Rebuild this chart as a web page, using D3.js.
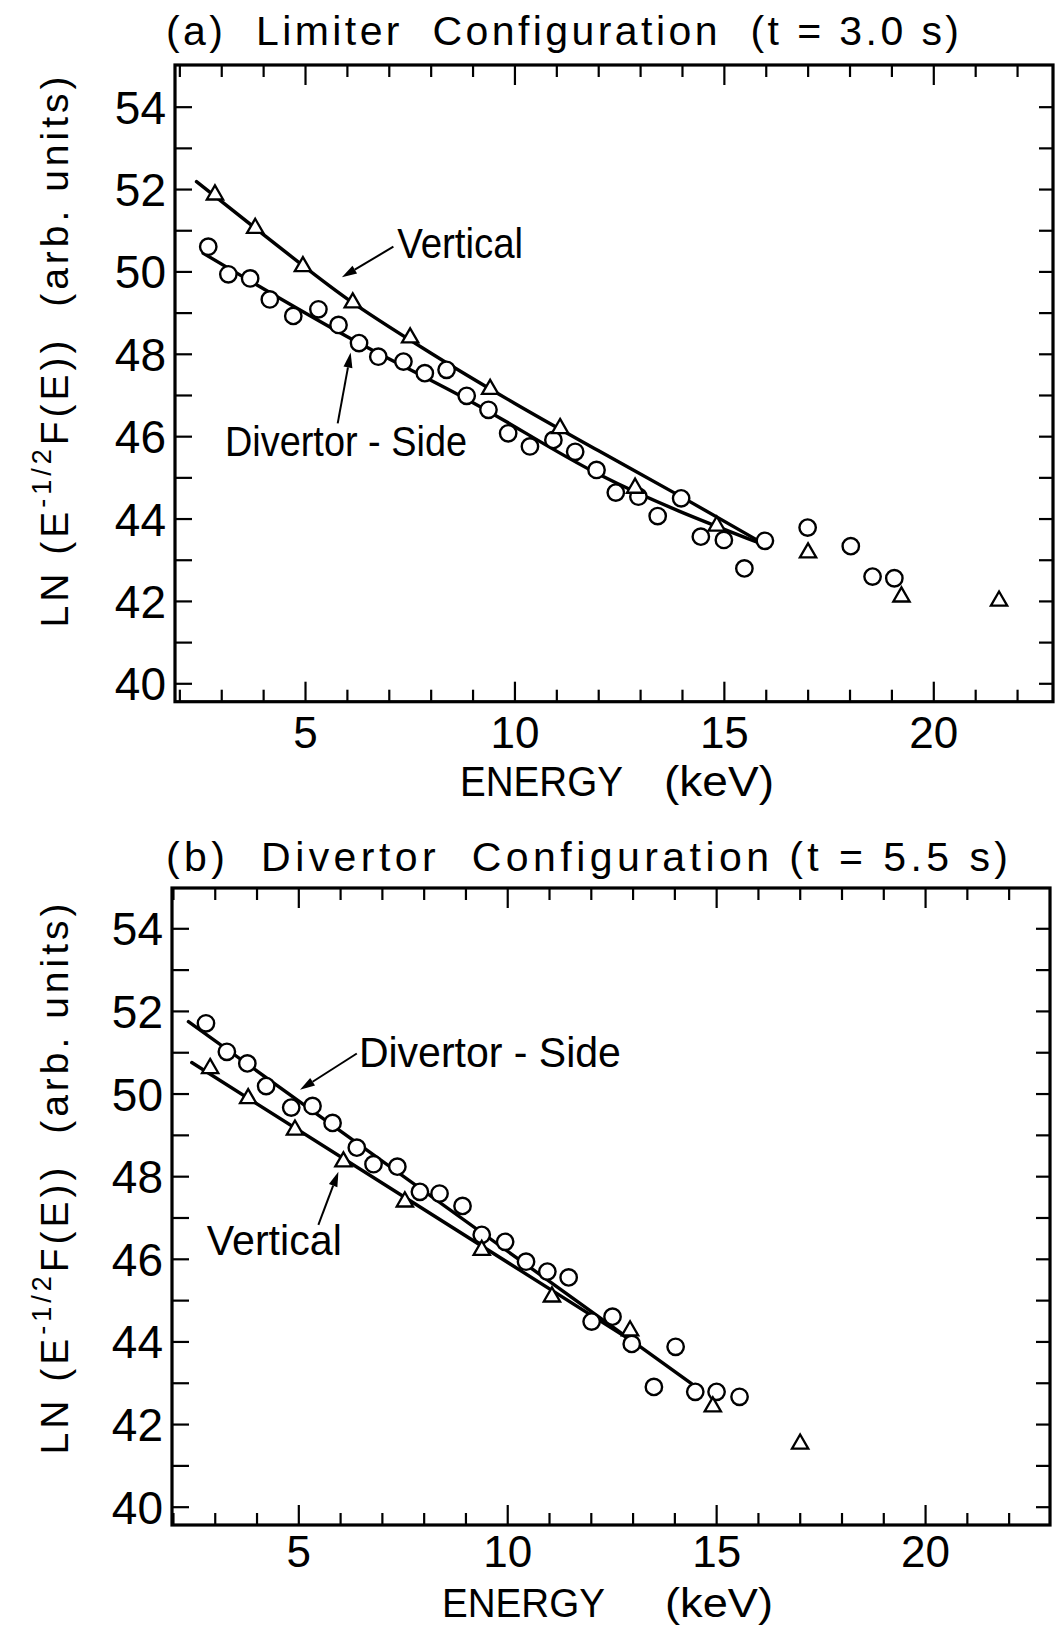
<!DOCTYPE html>
<html><head><meta charset="utf-8">
<script src="https://cdn.jsdelivr.net/npm/d3@7"></script>
<style>body{margin:0;background:#fff}svg{display:block}</style>
</head><body>
<script>
// ---------------- data ----------------
const xTickValues = d3.range(2, 23);          // 2 .. 22 keV
const xTickLabels = [5, 10, 15, 20];
const yTickValues = d3.range(40, 55);          // 40 .. 54
const yTickLabels = [40, 42, 44, 46, 48, 50, 52, 54];

const titleA = "(a)  Limiter  Configuration  (t = 3.0 s)";
const titleB = "(b)  Divertor  Configuration (t = 5.5 s)";
const xAxisWord = "ENERGY";
const xAxisUnit = "(keV)";

// Panel (a) Limiter configuration: Divertor-Side (circles)
const aDivE  = [2.69,3.17,3.69,4.16,4.72,5.32,5.80,6.29,6.75,7.35,7.86,8.38,8.86,9.38,9.85,10.37,10.93,11.45,11.96,12.42,12.96,13.42,13.98,14.45,15.00,15.49,15.98,17.00,18.03,18.55,19.07];
const aDivLn = [50.60,49.93,49.83,49.32,48.92,49.08,48.70,48.26,47.93,47.81,47.53,47.61,46.98,46.64,46.07,45.75,45.91,45.62,45.18,44.63,44.53,44.06,44.49,43.56,43.48,42.79,43.46,43.78,43.33,42.59,42.55];
// Panel (a): Vertical (triangles)
const aVertE  = [2.85,3.81,4.95,6.14,7.51,9.42,11.09,12.88,14.83,17.01,19.24,21.57];
const aVertLn = [51.86,51.05,50.12,49.24,48.39,47.14,46.19,44.74,43.82,43.17,42.10,42.00];
// Panel (a) fitted curves
const aFitVertE  = [2.41,4.0,6.0,8.0,10.0,12.0,14.0,15.86];
const aFitVertLn = [52.18,50.90,49.34,48.02,46.80,45.65,44.52,43.44];
const aFitDivE   = [2.57,6.0,9.0,12.0,15.86];
const aFitDivLn  = [50.44,48.42,46.82,45.08,43.40];

// Panel (b) Divertor configuration: Divertor-Side (circles)
const bDivE  = [2.79,3.29,3.78,4.23,4.83,5.34,5.82,6.40,6.80,7.37,7.91,8.38,8.93,9.39,9.95,10.45,10.96,11.47,12.02,12.52,12.98,13.51,14.03,14.50,15.01,15.56];
const bDivLn = [51.70,51.01,50.73,50.18,49.66,49.70,49.29,48.69,48.29,48.23,47.62,47.58,47.28,46.58,46.41,45.93,45.69,45.55,44.48,44.60,43.94,42.90,43.87,42.78,42.78,42.66];
// Panel (b): Vertical (triangles)
const bVertE  = [2.89,3.80,4.92,6.08,7.55,9.39,11.07,12.94,14.92,17.01];
const bVertLn = [50.61,49.88,49.12,48.35,47.38,46.21,45.08,44.26,42.42,41.52];
// Panel (b) fitted lines
const bFitDivE   = [2.37,14.41];
const bFitDivLn  = [51.74,42.98];
const bFitVertE  = [2.45,13.0];
const bFitVertLn = [50.75,44.0];

// ---------------- layout ----------------
const W = 1055, H = 1629;
const FONT = "'Liberation Sans', Arial, sans-serif";

const panels = [
  { title: titleA, titleX: 166, titleY: 45, titleW: 793,
    left: 175, right: 1053, top: 65, bottom: 701.7,
    xDomain: [1.896, 22.858], yDomain: [39.553, 55.012],
    div: [aDivE, aDivLn], vert: [aVertE, aVertLn],
    fitDiv: [aFitDivE, aFitDivLn], fitVert: [aFitVertE, aFitVertLn], curved: true,
    tickPad: 15, energyX: 460, energyW: 163, unitX: 664, unitW: 110, energyY: 796, energyFont: 42,
    yTitleCenter: 350,
    notes: [
      { text: "Vertical", e: 7.20, v: 50.33, w: 126, arrow: [7.11, 50.60, 5.88, 49.86] },
      { text: "Divertor - Side", e: 3.09, v: 45.52, w: 242, arrow: [5.78, 46.31, 6.09, 48.03] }
    ] },
  { title: titleB, titleX: 166, titleY: 871, titleW: 842,
    left: 172, right: 1050, top: 888, bottom: 1525,
    xDomain: [1.977, 22.99], yDomain: [39.557, 54.975],
    div: [bDivE, bDivLn], vert: [bVertE, bVertLn],
    fitDiv: [bFitDivE, bFitDivLn], fitVert: [bFitVertE, bFitVertLn], curved: false,
    tickPad: 11, energyX: 442, energyW: 163, unitX: 665, unitW: 108, energyY: 1617, energyFont: 40,
    yTitleCenter: 1177,
    notes: [
      { text: "Divertor - Side", e: 6.45, v: 50.64, w: 262, arrow: [6.40, 50.97, 5.04, 50.09] },
      { text: "Vertical", e: 2.81, v: 46.09, w: 135, arrow: [5.48, 46.82, 5.96, 48.11] }
    ] }
];

const svg = d3.select("body").append("svg").attr("width", W).attr("height", H)
  .style("font-family", FONT);
svg.append("rect").attr("width", W).attr("height", H).attr("fill", "#fff");

function noDomain(g) { g.select(".domain").remove(); }

panels.forEach(p => {
  const x = d3.scaleLinear().domain(p.xDomain).range([p.left, p.right]);
  const y = d3.scaleLinear().domain(p.yDomain).range([p.bottom, p.top]);
  const g = svg.append("g");

  // title
  g.append("text").attr("x", p.titleX).attr("y", p.titleY)
    .attr("font-size", 41).attr("textLength", p.titleW).attr("lengthAdjust", "spacing")
    .style("white-space", "pre").text(p.title);

  const minorX = xTickValues.filter(d => d % 5 !== 0);
  const majorX = xTickValues.filter(d => d % 5 === 0);
  const tickStyle = sel => sel.selectAll(".tick line").attr("stroke", "#000").attr("stroke-width", 2.2);

  // bottom ticks (inward)
  g.append("g").attr("transform", `translate(0,${p.bottom})`)
    .call(d3.axisBottom(x).tickValues(minorX).tickSize(-12).tickFormat(""))
    .call(noDomain).call(tickStyle);
  g.append("g").attr("transform", `translate(0,${p.bottom})`)
    .call(d3.axisBottom(x).tickValues(majorX).tickSize(-20).tickFormat(""))
    .call(noDomain).call(tickStyle);
  // bottom labels
  const xl = g.append("g").attr("transform", `translate(0,${p.bottom})`)
    .call(d3.axisBottom(x).tickValues(xTickLabels).tickSize(0).tickPadding(p.tickPad).tickFormat(d3.format("d")))
    .call(noDomain);
  xl.selectAll("text").attr("font-size", 44).attr("fill", "#000").style("font-family", FONT);

  // top ticks (inward)
  g.append("g").attr("transform", `translate(0,${p.top})`)
    .call(d3.axisTop(x).tickValues(minorX).tickSize(-12).tickFormat(""))
    .call(noDomain).call(tickStyle);
  g.append("g").attr("transform", `translate(0,${p.top})`)
    .call(d3.axisTop(x).tickValues(majorX).tickSize(-20).tickFormat(""))
    .call(noDomain).call(tickStyle);

  // left ticks + labels
  g.append("g").attr("transform", `translate(${p.left},0)`)
    .call(d3.axisLeft(y).tickValues(yTickValues).tickSize(-17).tickFormat(""))
    .call(noDomain).call(tickStyle);
  const yl = g.append("g").attr("transform", `translate(${p.left},0)`)
    .call(d3.axisLeft(y).tickValues(yTickLabels).tickSize(0).tickPadding(9).tickFormat(d3.format("d")))
    .call(noDomain);
  yl.selectAll("text").attr("font-size", 46).attr("fill", "#000").attr("dy", "0.36em").style("font-family", FONT);

  // right ticks
  g.append("g").attr("transform", `translate(${p.right},0)`)
    .call(d3.axisRight(y).tickValues(yTickValues).tickSize(-14).tickFormat(""))
    .call(noDomain).call(tickStyle);

  // frame
  g.append("rect").attr("x", p.left).attr("y", p.top)
    .attr("width", p.right - p.left).attr("height", p.bottom - p.top)
    .attr("fill", "none").attr("stroke", "#000").attr("stroke-width", 3.2);

  // x-axis title
  g.append("text").attr("x", p.energyX).attr("y", p.energyY).attr("font-size", p.energyFont)
    .attr("textLength", p.energyW).attr("lengthAdjust", "spacingAndGlyphs").text(xAxisWord);
  g.append("text").attr("x", p.unitX).attr("y", p.energyY).attr("font-size", p.energyFont)
    .attr("textLength", p.unitW).attr("lengthAdjust", "spacingAndGlyphs").text(xAxisUnit);

  // y-axis title
  const yt = g.append("text")
    .attr("transform", `translate(68,${p.yTitleCenter}) rotate(-90)`)
    .attr("text-anchor", "middle").attr("font-size", 39)
    .style("letter-spacing", "4px").style("white-space", "pre");
  yt.append("tspan").text("LN (E");
  yt.append("tspan").attr("font-size", 27).attr("dy", -17).text("-1/2");
  yt.append("tspan").attr("dy", 17).text("F(E))  (arb. units)");

  // fitted curves
  const line = d3.line().x(d => x(d[0])).y(d => y(d[1]))
    .curve(p.curved ? d3.curveMonotoneX : d3.curveLinear);
  [p.fitVert, p.fitDiv].forEach(f => {
    const pts = f[0].map((e, i) => [e, f[1][i]]);
    g.append("path").attr("d", line(pts)).attr("fill", "none")
      .attr("stroke", "#000").attr("stroke-width", 3.4).attr("stroke-linecap", "round");
  });

  // circles (Divertor-Side)
  g.append("g").selectAll("circle")
    .data(p.div[0].map((e, i) => [e, p.div[1][i]]))
    .join("circle").attr("cx", d => x(d[0])).attr("cy", d => y(d[1])).attr("r", 8.2)
    .attr("fill", "#fff").attr("stroke", "#000").attr("stroke-width", 2.4);

  // triangles (Vertical)
  const tri = d3.symbol(d3.symbolTriangle, 115);
  g.append("g").selectAll("path")
    .data(p.vert[0].map((e, i) => [e, p.vert[1][i]]))
    .join("path").attr("d", tri)
    .attr("transform", d => `translate(${x(d[0])},${y(d[1])})`)
    .attr("fill", "#fff").attr("stroke", "#000").attr("stroke-width", 2.3)
    .attr("stroke-linejoin", "miter");

  // annotations with arrows
  p.notes.forEach(n => {
    g.append("text").attr("x", x(n.e)).attr("y", y(n.v)).attr("font-size", 42)
      .attr("textLength", n.w).attr("lengthAdjust", "spacingAndGlyphs")
      .style("white-space", "pre").text(n.text);
    const [e1, v1, e2, v2] = n.arrow;
    const x1 = x(e1), y1 = y(v1), x2 = x(e2), y2 = y(v2);
    const ang = Math.atan2(y2 - y1, x2 - x1);
    const L = 15, hw = 4.5;
    const bx = x2 - L * Math.cos(ang), by = y2 - L * Math.sin(ang);
    g.append("line").attr("x1", x1).attr("y1", y1).attr("x2", bx).attr("y2", by)
      .attr("stroke", "#000").attr("stroke-width", 2);
    g.append("path").attr("d", `M${x2},${y2}L${bx + hw * Math.sin(ang)},${by - hw * Math.cos(ang)}L${bx - hw * Math.sin(ang)},${by + hw * Math.cos(ang)}Z`)
      .attr("fill", "#000");
  });
});
</script>
</body></html>
